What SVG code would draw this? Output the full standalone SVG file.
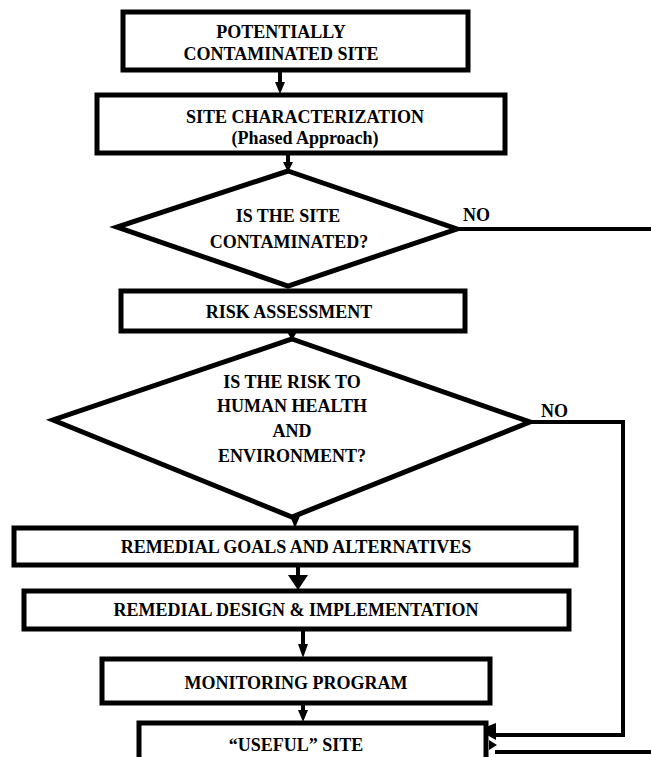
<svg xmlns="http://www.w3.org/2000/svg" width="651" height="757" viewBox="0 0 651 757">
<defs>
<style>
.box{fill:#fff;stroke:#000;stroke-width:5}
.dia{fill:#fff;stroke:#000;stroke-width:5;stroke-linejoin:miter}
.t{font-family:"Liberation Serif","Times New Roman",serif;font-weight:bold;font-size:18px;fill:#000;text-anchor:middle}
.tl{font-family:"Liberation Serif","Times New Roman",serif;font-weight:bold;font-size:18px;fill:#000}
.ln{fill:none;stroke:#000;stroke-width:4}
.ah{fill:#000}
</style>
</defs>
<rect width="651" height="757" fill="#fff"/>
<g id="connectors">
<line class="ln" x1="280" y1="72" x2="280" y2="84"/>
<polygon class="ah" points="275,82 285,82 280,94"/>
<line class="ln" x1="288" y1="155" x2="288" y2="164"/>
<polygon class="ah" points="283,162 293,162 288,172"/>
<line class="ln" x1="292" y1="332" x2="292" y2="336"/>
<polygon class="ah" points="287,332 297,332 292,340"/>
<line class="ln" x1="295" y1="518" x2="295" y2="520"/>
<polygon class="ah" points="290,516 300,516 295,528"/>
<line class="ln" x1="298" y1="565" x2="298" y2="578"/>
<polygon class="ah" points="288,575 308,575 298,590"/>
<line class="ln" x1="303" y1="630" x2="303" y2="646"/>
<polygon class="ah" points="298,644 308,644 303,658"/>
<line class="ln" x1="303" y1="704" x2="303" y2="712"/>
<polygon class="ah" points="298,710 308,710 303,722"/>
<polyline class="ln" points="457,229 651,229"/>
<polyline class="ln" points="530,422 623,422 623,735 496,735"/>
<polygon class="ah" points="478,730 496,723 496,740"/>
<line class="ln" x1="495" y1="752" x2="651" y2="752"/>
<polygon class="ah" points="489,740 497,745 489,750"/>
</g>
<g id="n1">
<rect class="box" x="123" y="12" width="345" height="58"/>
<text class="t" x="281" y="38">POTENTIALLY</text>
<text class="t" x="281" y="60">CONTAMINATED SITE</text>
</g>
<g id="n2">
<rect class="box" x="97" y="95" width="408" height="58"/>
<text class="t" x="305" y="123">SITE CHARACTERIZATION</text>
<text class="t" x="305" y="144">(Phased Approach)</text>
</g>
<g id="n3">
<polygon class="dia" points="288,171 457,229 288,286 117,227"/>
<text class="t" x="288" y="222">IS THE SITE</text>
<text class="t" x="289" y="248">CONTAMINATED?</text>
</g>
<text class="tl" x="463" y="221">NO</text>
<g id="n4">
<rect class="box" x="121" y="291" width="344" height="40"/>
<text class="t" x="289" y="318">RISK ASSESSMENT</text>
</g>
<g id="n5">
<polygon class="dia" points="292,339 530,422 292,517 53,420"/>
<text class="t" x="292" y="388">IS THE RISK TO</text>
<text class="t" x="292" y="412">HUMAN HEALTH</text>
<text class="t" x="292" y="437">AND</text>
<text class="t" x="292" y="462">ENVIRONMENT?</text>
</g>
<text class="tl" x="541" y="417">NO</text>
<g id="n6">
<rect class="box" x="14" y="528" width="562" height="37"/>
<text class="t" x="296" y="553">REMEDIAL GOALS AND ALTERNATIVES</text>
</g>
<g id="n7">
<rect class="box" x="24" y="591" width="545" height="38"/>
<text class="t" x="296" y="616">REMEDIAL DESIGN &amp; IMPLEMENTATION</text>
</g>
<g id="n8">
<rect class="box" x="102" y="659" width="388" height="44"/>
<text class="t" x="296" y="689">MONITORING PROGRAM</text>
</g>
<g id="n9">
<rect class="box" x="139" y="723" width="347" height="44"/>
<text class="t" x="296" y="751">“USEFUL” SITE</text>
</g>
</svg>
